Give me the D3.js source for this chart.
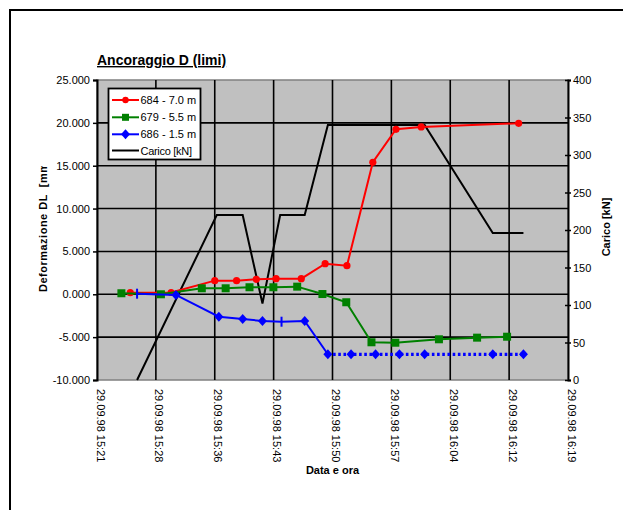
<!DOCTYPE html>
<html>
<head>
<meta charset="utf-8">
<script src="https://cdn.jsdelivr.net/npm/d3@7"></script>
<style>
  body { margin: 0; background: #fff; }
  svg { display: block; font-family: Arial, "Liberation Sans", sans-serif; }
</style>
</head>
<body>
<svg id="chart" width="623" height="510"></svg>
<script>
// Readings of 29.09.98 (clock time hh:mm:ss) — deformation in mm, load in kN
const redTimes   = ["15:25:40","15:30:40","15:36:00","15:38:40","15:41:05","15:43:30","15:46:35","15:49:30","15:52:10","15:55:20","15:58:10","16:01:15","16:13:10"];
const redValues  = [0.19, 0.21, 1.59, 1.59, 1.75, 1.82, 1.82, 3.57, 3.34, 15.40, 19.25, 19.52, 19.95];

const greenTimes  = ["15:24:35","15:29:25","15:34:25","15:37:20","15:40:15","15:43:10","15:46:05","15:49:10","15:52:05","15:55:10","15:58:05","16:03:25","16:08:05","16:11:45"];
const greenValues = [0.12, 0.00, 0.70, 0.70, 0.82, 0.82, 0.89, 0.03, -0.93, -5.60, -5.65, -5.25, -5.06, -4.95];

const blueTimes  = ["15:26:30","15:31:15","15:36:30","15:39:25","15:41:50","15:44:10","15:47:00","15:49:50","15:52:40","15:55:40","15:58:35","16:01:40","16:10:00","16:13:45"];
const blueValues = [0.07, -0.08, -2.61, -2.88, -3.12, -3.20, -3.12, -7.00, -7.00, -7.00, -7.00, -7.00, -7.00, -7.00];

const loadTimes  = ["15:26:30","15:36:15","15:39:25","15:41:50","15:44:00","15:47:00","15:49:50","16:01:40","16:10:00","16:13:45"];
const loadValues = [0, 220, 220, 102, 220, 220, 340, 340, 196, 196];

const seriesNames = ["684 - 7.0 m", "679 - 5.5 m", "686 - 1.5 m", "Carico [kN]"];

const xDomain      = ["15:21:36", "16:19:12"];
const xTickTimes   = ["15:21:36","15:28:48","15:36:00","15:43:12","15:50:24","15:57:36","16:04:48","16:12:00","16:19:12"];
const xTickLabels  = ["29.09.98 15:21","29.09.98 15:28","29.09.98 15:36","29.09.98 15:43","29.09.98 15:50","29.09.98 15:57","29.09.98 16:04","29.09.98 16:12","29.09.98 16:19"];

const leftTicks      = [-10, -5, 0, 5, 10, 15, 20, 25];
const leftTickLabels = ["-10.000","-5.000","0.000","5.000","10.000","15.000","20.000","25.000"];
const rightTicks      = [0, 50, 100, 150, 200, 250, 300, 350, 400];
const rightTickLabels = ["0","50","100","150","200","250","300","350","400"];

const titleText  = "Ancoraggio D (limi)";
const leftTitle  = "Deformazione DL  [mm]";
const rightTitle = "Carico [kN]";
const xTitle     = "Data e ora";

// ---------------------------------------------------------------
const parseT = d3.timeParse("%H:%M:%S");
const zip = (ts, vs) => ts.map((t, i) => ({ t: parseT(t), v: vs[i], i }));

const plot = { left: 97, right: 568, top: 80, bottom: 380 };

const x  = d3.scaleTime().domain(xDomain.map(parseT)).range([plot.left, plot.right]);
const yL = d3.scaleLinear().domain([-10, 25]).range([plot.bottom, plot.top]);
const yR = d3.scaleLinear().domain([0, 400]).range([plot.bottom, plot.top]);

const svg = d3.select("#chart");
const FONT = "Arial, 'Liberation Sans', sans-serif";

// outer chart frame
svg.append("rect")
  .attr("x", 10).attr("y", 10).attr("width", 700).attr("height", 600)
  .attr("fill", "#fff").attr("stroke", "#000").attr("stroke-width", 2);

// title
svg.append("text")
  .attr("x", 97).attr("y", 65)
  .attr("font-size", 14).attr("font-weight", "bold")
  .attr("text-decoration", "underline")
  .text(titleText);

// plot area
svg.append("rect")
  .attr("x", plot.left).attr("y", plot.top)
  .attr("width", plot.right - plot.left).attr("height", plot.bottom - plot.top)
  .attr("fill", "#c0c0c0").attr("stroke", "#808080").attr("stroke-width", 1.5);

// gridlines
const grid = svg.append("g").attr("stroke", "#000").attr("stroke-width", 1.6);
grid.selectAll("line.h").data(leftTicks.slice(1, -1)).join("line")
  .attr("x1", plot.left).attr("x2", plot.right)
  .attr("y1", d => yL(d)).attr("y2", d => yL(d));
grid.selectAll("line.v").data(xTickTimes.slice(1, -1).map(parseT)).join("line")
  .attr("x1", d => x(d)).attr("x2", d => x(d))
  .attr("y1", plot.top).attr("y2", plot.bottom);

// left axis
const leftAxis = d3.axisLeft(yL).tickValues(leftTicks)
  .tickFormat((d, i) => leftTickLabels[i]).tickSize(4).tickPadding(3);
const gL = svg.append("g").attr("transform", `translate(${plot.left},0)`).call(leftAxis);
gL.select(".domain").attr("stroke", "#000").attr("stroke-width", 2);
gL.selectAll(".tick line").attr("stroke", "#000").attr("stroke-width", 1.5);
gL.selectAll(".tick text").attr("font-size", 11).attr("font-family", FONT).attr("fill", "#000");

// right axis (load)
const rightAxis = d3.axisRight(yR).tickValues(rightTicks)
  .tickFormat((d, i) => rightTickLabels[i]).tickSize(3).tickPadding(2);
const gR = svg.append("g").attr("transform", `translate(${plot.right},0)`).call(rightAxis);
gR.select(".domain").attr("stroke", "#000").attr("stroke-width", 2);
gR.selectAll(".tick line").attr("stroke", "#000").attr("stroke-width", 1.5).attr("x1", -3);
gR.selectAll(".tick text").attr("font-size", 11).attr("font-family", FONT).attr("fill", "#000");

// bottom axis: rotated date labels
const bottomAxis = d3.axisBottom(x).tickValues(xTickTimes.map(parseT))
  .tickFormat((d, i) => xTickLabels[i]).tickSize(0);
const gB = svg.append("g").attr("transform", `translate(0,${plot.bottom})`).call(bottomAxis);
gB.select(".domain").remove();
gB.selectAll(".tick text")
  .attr("font-size", 11).attr("font-family", FONT).attr("fill", "#000")
  .attr("text-anchor", "start").attr("dy", null).attr("y", 0)
  .attr("transform", "translate(-1,9) rotate(90)");

// axis titles
svg.append("text")
  .attr("x", 332.5).attr("y", 474).attr("text-anchor", "middle")
  .attr("font-size", 11).attr("font-weight", "bold").text(xTitle);

// left title is cut off at the top of its slot
svg.append("clipPath").attr("id", "ltclip")
  .append("rect").attr("x", 0).attr("y", 166).attr("width", 90).attr("height", 200);
svg.append("g").attr("clip-path", "url(#ltclip)")
  .append("text")
  .attr("transform", "translate(47,292) rotate(-90)")
  .attr("font-size", 11).attr("font-weight", "bold")
  .attr("letter-spacing", 0.5)
  .style("white-space", "pre")
  .text(leftTitle);

svg.append("text")
  .attr("transform", "translate(610,227) rotate(-90)").attr("text-anchor", "middle")
  .attr("font-size", 11).attr("font-weight", "bold").text(rightTitle);

// ---------------------------------------------------------------
// series
const lineL = d3.line().x(d => x(d.t)).y(d => yL(d.v));
const lineR = d3.line().x(d => x(d.t)).y(d => yR(d.v));

const red = zip(redTimes, redValues);
const green = zip(greenTimes, greenValues);
const blue = zip(blueTimes, blueValues);
const load = zip(loadTimes, loadValues);

const diamond = "M0,-5L4.5,0L0,5L-4.5,0Z";

// load (secondary axis)
svg.append("path").datum(load).attr("d", lineR)
  .attr("fill", "none").attr("stroke", "#000").attr("stroke-width", 2);

// 684 - 7.0 m
svg.append("path").datum(red).attr("d", lineL)
  .attr("fill", "none").attr("stroke", "#ff0000").attr("stroke-width", 2);
svg.append("g").selectAll("circle").data(red).join("circle")
  .attr("cx", d => x(d.t)).attr("cy", d => yL(d.v)).attr("r", 3.6)
  .attr("fill", "#ff0000");

// 679 - 5.5 m
svg.append("path").datum(green).attr("d", lineL)
  .attr("fill", "none").attr("stroke", "#008000").attr("stroke-width", 2);
svg.append("g").selectAll("rect").data(green).join("rect")
  .attr("x", d => x(d.t) - 4).attr("y", d => yL(d.v) - 4)
  .attr("width", 8).attr("height", 8).attr("fill", "#008000");

// 686 - 1.5 m : solid until the drop, dotted afterwards
const dropIdx = 7;
svg.append("path").datum(blue.slice(0, dropIdx + 1)).attr("d", lineL)
  .attr("fill", "none").attr("stroke", "#0000ff").attr("stroke-width", 2);
svg.append("path").datum(blue.slice(dropIdx)).attr("d", lineL)
  .attr("fill", "none").attr("stroke", "#0000ff").attr("stroke-width", 3.2)
  .attr("stroke-dasharray", "2.6,2.6");
const barMarkers = new Set([0, 5]);
const gBlue = svg.append("g");
gBlue.selectAll("path").data(blue.filter(d => !barMarkers.has(d.i))).join("path")
  .attr("transform", d => `translate(${x(d.t)},${yL(d.v)})`)
  .attr("d", diamond).attr("fill", "#0000ff");
gBlue.selectAll("line").data(blue.filter(d => barMarkers.has(d.i))).join("line")
  .attr("x1", d => x(d.t)).attr("x2", d => x(d.t))
  .attr("y1", d => yL(d.v) - 5).attr("y2", d => yL(d.v) + 5)
  .attr("stroke", "#0000ff").attr("stroke-width", 2);

// ---------------------------------------------------------------
// legend
const lg = svg.append("g");
lg.append("rect").attr("x", 108.5).attr("y", 88.5).attr("width", 92).attr("height", 71)
  .attr("fill", "#fff").attr("stroke", "#000").attr("stroke-width", 1.8);
const legendColors = ["#ff0000", "#008000", "#0000ff", "#000"];
const legendRows = [100, 117.3, 134.3, 150.5];
seriesNames.forEach((name, i) => {
  const yy = legendRows[i];
  lg.append("line").attr("x1", 112).attr("x2", 139).attr("y1", yy).attr("y2", yy)
    .attr("stroke", legendColors[i]).attr("stroke-width", 2);
  if (i === 0) lg.append("circle").attr("cx", 125.5).attr("cy", yy).attr("r", 3.2).attr("fill", legendColors[i]);
  if (i === 1) lg.append("rect").attr("x", 122).attr("y", yy - 3.5).attr("width", 7).attr("height", 7).attr("fill", legendColors[i]);
  if (i === 2) lg.append("path").attr("transform", `translate(125.5,${yy})`).attr("d", diamond).attr("fill", legendColors[i]);
  lg.append("text").attr("x", 140.5).attr("y", yy + 4).attr("font-size", 11)
    .attr("textLength", i === 3 ? 51.5 : null)
    .text(name);
});
</script>
</body>
</html>
